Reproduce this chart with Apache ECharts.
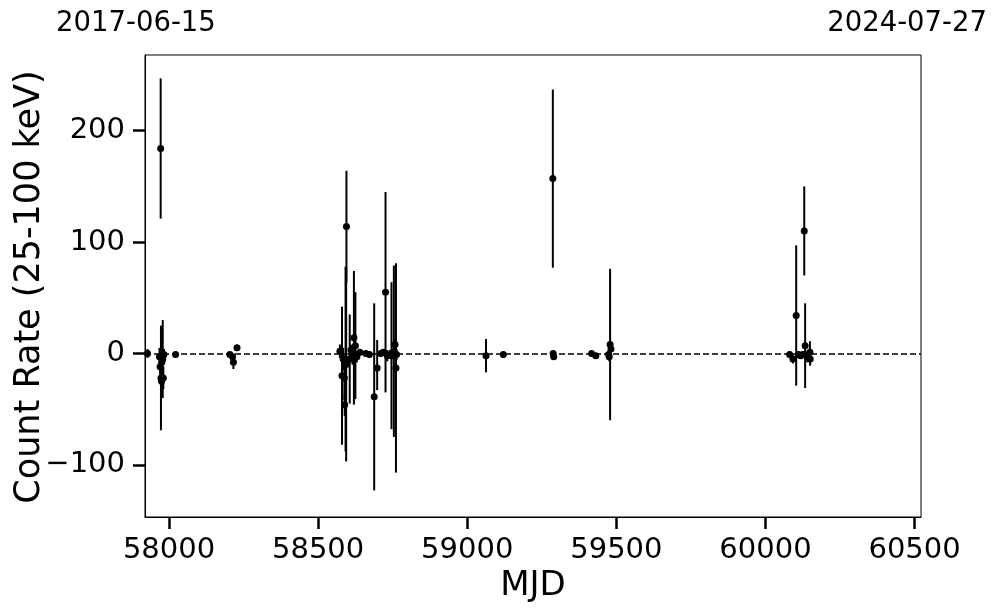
<!DOCTYPE html>
<html>
<head>
<meta charset="utf-8">
<script src="https://cdn.jsdelivr.net/npm/echarts@6/dist/echarts.min.js"></script>
<style>html,body{margin:0;padding:0;background:#fff}#c{width:997px;height:613px}</style>
</head>
<body>
<div id="c"></div>
<script>
// ---- data ----
const mjd = [57928,57972,57968,57970,57973,57976,57979,57981,57975,57983,58022,
  58204,58213,58216,58228,
  58573,58580,58584,58588,58592,58595,58594,58589,58606,58610,58620,58625,58615,58630,58640,58660,58672,58688,58698,58710,58718,58726,58732,58740,58746,58754,58761,58758,58763,
  59063,59121,59287,59288,59290,59417,59431,59479,59474,59476,59482,
  60081,60092,60103,60110,60118,60125,60130,60133,60140,60149,60150];
const rate = [0,184,-3,-12,-22,-8,-5,-22,-25,-1,-1,
  -1,-3,-8,5,
  2,-20,-5,-22,-5,114,-10,-46,-5,3,14,7,-2,-3,1,0,-1,-39,-13,0,1,55,-2,-1,-2,2,-13,8,-1,
  -2,-1,157,0,-3,0,-2,8,-1,-3,4,
  -1,-5,34,-1,-2,-1,110,7,-3,1,-5];
const errMinus = [4,63,8,12,47,27,35,10,15,5,3,
  2,3,6,2,
  6,62,10,20,83,50,87,10,40,5,60,48,8,5,3,2,3,84,20,3,3,90,5,4,66,77,94,5,5,
  15,2,80,2,2,2,2,68,4,4,3,
  3,4,63,3,3,3,40,38,5,10,6];
const errPlus = [4,63,8,12,47,27,35,10,15,5,3,
  2,3,6,2,
  6,62,10,20,83,50,87,10,40,5,60,48,8,5,3,2,3,84,25,3,3,90,5,4,66,77,94,5,5,
  15,2,80,2,2,2,2,68,4,4,3,
  3,4,63,3,3,3,40,38,5,10,6];
const xTicks = [58000,58500,59000,59500,60000,60500];
const yTicks = [-100,0,100,200];
const startDate = '2017-06-15';
const endDate = '2024-07-27';

const pts = mjd.map((m,i)=>[m, rate[i]]);
const errs = mjd.map((m,i)=>[m, rate[i]-errMinus[i], rate[i]+errPlus[i]]);

const chart = echarts.init(document.getElementById('c'), null, {renderer:'canvas'});
const FONT = 'DejaVu Sans';
chart.setOption({
  animation:false,
  backgroundColor:'#fff',
  grid:{left:145,right:76,top:55,bottom:96,show:true,borderColor:'#000',borderWidth:1,containLabel:false},
  xAxis:{type:'value',min:57919.5,max:60521.5,
    axisLine:{show:true,onZero:false,lineStyle:{color:'#000',width:1}},
    axisTick:{show:true,inside:false,length:12,customValues:xTicks,lineStyle:{color:'#000',width:2.5}},
    axisLabel:{show:true,customValues:xTicks,margin:19,color:'#000',fontFamily:FONT,fontSize:29,
      formatter:v=>String(v)},
    splitLine:{show:false}},
  yAxis:{type:'value',min:-146.9,max:268,
    axisLine:{show:true,onZero:false,lineStyle:{color:'#000',width:1}},
    axisTick:{show:true,inside:false,length:12,customValues:yTicks,lineStyle:{color:'#000',width:2.5}},
    axisLabel:{show:true,customValues:yTicks,margin:20,color:'#000',fontFamily:FONT,fontSize:29,
      formatter:v=> v<0 ? '\u2212'+Math.abs(v) : String(v)},
    splitLine:{show:false}},
  graphic:[
    {type:'text',left:56,top:10,style:{text:startDate,font:'27.5px "DejaVu Sans"',fill:'#000'}},
    {type:'text',right:10,top:10,style:{text:endDate,font:'27.5px "DejaVu Sans"',fill:'#000'}},
    {type:'text',x:533,y:586,style:{text:'MJD',font:'34px "DejaVu Sans"',fill:'#000',align:'center',verticalAlign:'middle'}},
    {type:'text',x:30,y:287,rotation:Math.PI/2,style:{text:'Count Rate (25-100 keV)',font:'35px "DejaVu Sans"',fill:'#000',align:'center',verticalAlign:'middle'}}
  ],
  series:[
    {type:'custom',data:errs,z:2,
      renderItem:(params,api)=>{
        const a=api.coord([api.value(0),api.value(1)]);
        const b=api.coord([api.value(0),api.value(2)]);
        return {type:'line',shape:{x1:a[0],y1:a[1],x2:b[0],y2:b[1]},style:{stroke:'#000',lineWidth:2}};
      },
      markLine:{silent:true,symbol:['none','none'],label:{show:false},
        lineStyle:{color:'#000',type:[6,3],width:1.5,opacity:1},data:[{yAxis:0}]}
    },
    {type:'scatter',data:pts,symbol:'circle',symbolSize:7,z:3,itemStyle:{color:'#000',opacity:1}}
  ]
});
</script>
</body>
</html>
